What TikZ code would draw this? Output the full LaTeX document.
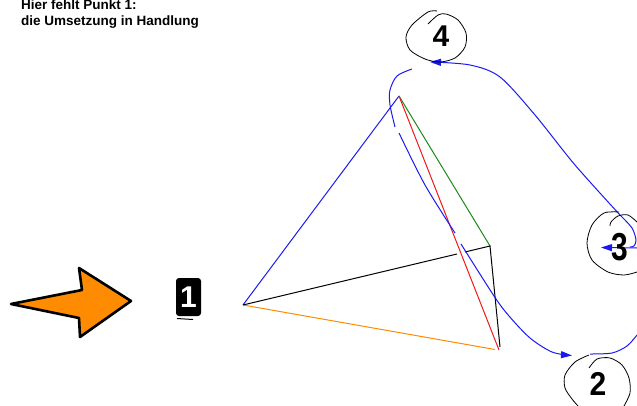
\documentclass[tikz,border=0pt]{standalone}
\usepackage{fontspec}
\setmainfont{Liberation Sans}
\usetikzlibrary{arrows.meta, positioning}
\definecolor{skBlue}{HTML}{1A1AF0}
\definecolor{skGreen}{HTML}{1A8A1A}
\definecolor{skRed}{HTML}{F01818}
\definecolor{skOrange}{HTML}{FF8C00}
\tikzset{
  edgeline/.style   = {line width=1pt},
  sketchline/.style = {skBlue, line width=1pt},
  sketchtip/.style  = {sketchline, -{Triangle[length=11pt,width=7pt]}},
  ringline/.style   = {black, line width=0.8pt},
  numlbl/.style     = {font=\bfseries\fontsize{30}{30}\selectfont, inner sep=0pt},
  txtlbl/.style     = {font=\bfseries\fontsize{13.5}{15.5}\selectfont, align=left, inner sep=0pt, anchor=base west},
  stepbadge/.style  = {fill=black, text=white, rounded corners=3pt, minimum width=25pt, minimum height=38pt,
                       inner sep=0pt, font=\bfseries\fontsize{30}{30}\selectfont},
}
\begin{document}
\begin{tikzpicture}[x=1pt,y=-1pt]
  \useasboundingbox (0,0) rectangle (637,406);
  \coordinate (apex) at (399,96); \coordinate (left) at (243,305);
  \coordinate (back) at (490,246); \coordinate (front) at (499,350);
  \coordinate (frontend) at (495,349.5); \coordinate (backgapa) at (457,254);
  \coordinate (backgapb) at (465,252); \coordinate (backend) at (500,347);

  \draw[edgeline, skBlue] (left) -- (apex);
  \draw[edgeline, skGreen] (apex) -- (back);
  \draw[edgeline, skRed] (apex) -- (front);
  \draw[edgeline, skOrange] (left) -- (frontend);
  \draw[edgeline, black] (left) -- (backgapa);
  \draw[edgeline, black] (backgapb) -- (back) -- (backend);

  \draw[sketchline] plot[smooth] coordinates {(412,69) (397,76) (390,90) (390,105) (395,127)};
  \draw[sketchline] plot[smooth] coordinates {(399,133) (425,185) (455,233)};
  \draw[sketchtip] plot[smooth] coordinates {(461,244) (494,296) (509,316) (530,338) (552,352) (572,355.5)};
  \draw[sketchline] plot[smooth] coordinates {(590,354) (612,353) (627,346) (637,335)};
  \draw[sketchtip] plot[smooth] coordinates {(620,215) (575,165) (535,115) (500,77) (470,65) (430,62)};
  \draw[sketchline] plot[smooth] coordinates {(620,215) (632,228) (636,240) (634,246) (630,247)};
  \draw[sketchtip] (637,248) -- (601,247.5);

  \draw[ringline] plot[smooth] coordinates {(437,11) (428,12) (412,25) (406,37) (410,50) (425,59) (440,62) (455,58) (465,47) (466,33) (458,20) (446,14) (438,15) (428,24)};
  \draw[ringline] plot[smooth] coordinates {(619,212) (604,213) (592,225) (587,243) (592,260) (608,272) (624,275) (637,272)};
  \draw[ringline] plot[smooth] coordinates {(637,222) (628,215) (618,216) (611,222) (610,226)};
  \draw[ringline] plot[smooth] coordinates {(589,355) (575,362) (565,375) (565,388) (572,399) (578,406)};
  \draw[ringline] plot[smooth] coordinates {(589,368) (597,359) (610,358) (622,365) (629,378) (630,393) (624,406)};

  \draw[line width=2.6pt, black, fill=skOrange, line join=round]
    (11,304) -- (82,290) -- (79,268) -- (131,301) -- (80,337) -- (79,318) -- cycle;

  \node[stepbadge] (badge) at (188.5,297) {1};
  \draw[line width=1pt, black] (177,318.5) -- (193,319.5);

  \node[numlbl] (num4) at (441,36) {4};
  \node[numlbl, yscale=1.3] (num3) at (620,247) {3};
  \node[numlbl, yscale=1.1] (num2) at (598,384) {2};
  \node[txtlbl] (note) at (21,25.5) {Hier fehlt Punkt 1:\\die Umsetzung in Handlung};
\end{tikzpicture}
\end{document}
